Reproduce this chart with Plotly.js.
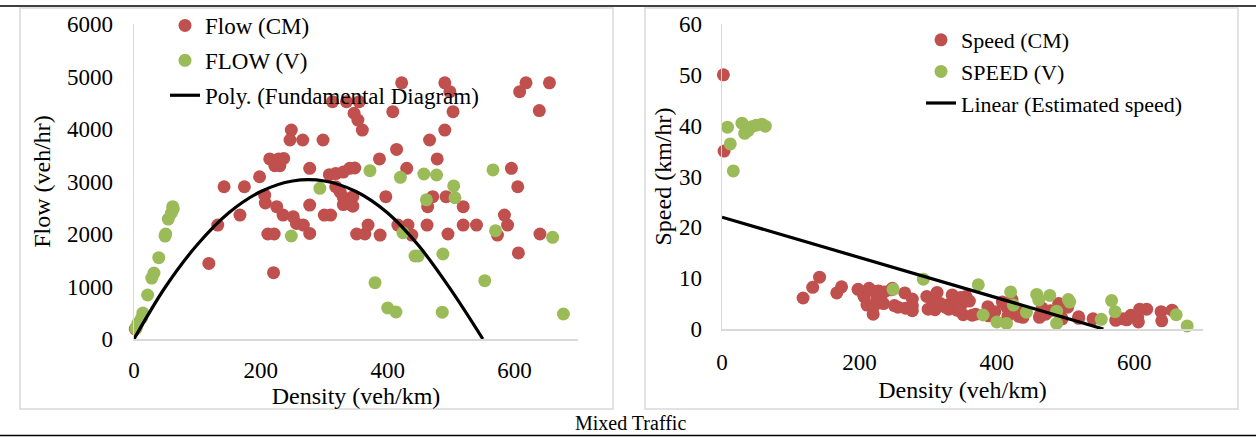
<!DOCTYPE html>
<html>
<head>
<meta charset="utf-8">
<script src="https://cdn.plot.ly/plotly-3.0.1.min.js"></script>
<style>
  html, body { margin: 0; padding: 0; background: #ffffff; }
  #chart { width: 1259px; height: 437px; }
</style>
</head>
<body>
<div id="chart"></div>
<script>
// ---------- Data ----------
// Mixed traffic, CM method: density (veh/km), flow (veh/hr), speed (km/hr)
const densityCM = [
  2, 3, 118, 132, 142, 167, 174, 198, 206, 207,
  214, 211, 221, 220, 225, 222, 228, 230, 236, 235,
  251, 256, 267, 277, 248, 246, 266, 298, 277, 277,
  300, 310, 308, 318, 330, 340, 318, 330, 330, 342,
  351, 364, 313, 335, 355, 347, 353, 360, 422, 490,
  498, 503, 408, 618, 608, 655, 639, 490, 466, 414,
  387, 478, 348, 430, 595, 605, 397, 345, 345, 471,
  463, 492, 519, 584, 589, 573, 369, 388, 416, 432,
  438, 462, 495, 519, 540, 640, 606, 325
];
const flowCM = [
  190, 200, 1440, 2170, 2900, 2360, 2900, 3090, 2740, 2590,
  3430, 2000, 2000, 1263, 2520, 3300, 3430, 3300, 3440, 2360,
  2330, 2200, 2170, 2010, 3980, 3790, 3790, 3790, 3250, 2550,
  2360, 2360, 3130, 3150, 3180, 3250, 2900, 2700, 2560, 2560,
  2000, 2000, 4520, 4520, 4520, 4300, 4170, 3980, 4880, 4880,
  4710, 4330, 4330, 4880, 4710, 4880, 4350, 3980, 3790, 3610,
  3430, 3430, 3257, 3250, 3250, 2900, 2710, 2710, 2530, 2710,
  2520, 2710, 2520, 2360, 2170, 1980, 2170, 1980, 2170, 2170,
  1980, 2170, 2000, 2170, 2170, 2000, 1640, 2800
];
const speedCM = [
  50, 35, 6.1, 8.2, 10.2, 7.1, 8.3, 7.8, 6.7, 6.3,
  8.0, 4.7, 4.5, 2.9, 5.6, 7.4, 7.5, 7.2, 7.3, 5.0,
  4.6, 4.3, 4.1, 3.6, 8.0, 7.7, 7.1, 6.4, 5.9, 4.6,
  3.9, 3.8, 5.1, 5.0, 4.8, 4.8, 4.6, 4.1, 3.9, 3.7,
  2.8, 2.7, 7.2, 6.7, 6.4, 6.2, 5.9, 5.5, 5.8, 5.0,
  4.7, 4.3, 5.3, 3.9, 3.9, 3.7, 3.4, 4.1, 4.1, 4.4,
  4.4, 3.6, 4.7, 3.8, 2.7, 2.4, 3.4, 3.9, 3.7, 2.9,
  2.7, 2.8, 2.4, 2.0, 1.8, 1.7, 2.9, 2.6, 2.6, 2.5,
  2.3, 2.3, 2.0, 2.1, 2.0, 1.6, 1.4, 4.3
];

// V method: flow panel
const densityFlowV = [
  3, 6, 12, 14, 21.5, 28, 31.5, 39, 49, 50,
  54, 59, 61, 62, 248, 293, 372, 380, 400, 413,
  420, 424, 443, 448, 457, 461, 477, 486, 487, 504,
  506, 553, 566, 570, 660, 677
];
const flowV = [
  200, 300, 400, 495, 838, 1160, 1257, 1549, 1960, 2000,
  2285, 2400, 2520, 2480, 1962, 2870, 3207, 1073, 590, 514,
  3080, 2025, 1581, 1581, 3143, 2650, 3124, 510, 1619, 2915,
  2690, 1111, 3220, 2063, 1937, 476
];

// V method: speed panel
const densitySpeedV = [
  8, 12, 16.5, 29, 33, 38, 43, 50, 58, 63,
  249, 293, 373, 380, 400, 414, 420, 424, 443, 458,
  461, 477, 487, 487, 504, 506, 552, 567, 572, 661,
  677
];
const speedV = [
  39.7, 36.4, 31.1, 40.5, 38.5, 39.0, 39.8, 40.1, 40.3, 39.9,
  7.8, 9.8, 8.7, 2.75, 1.4, 1.1, 7.3, 4.7, 3.3, 6.8,
  5.7, 6.6, 3.5, 1.1, 5.8, 5.3, 1.9, 5.6, 3.4, 2.8,
  0.6
];

// Trend lines
const polyDensity = [0, 50, 100, 150, 200, 250, 300, 350, 400, 450, 500, 550];
const polyFlow    = [0, 1000, 1800, 2410, 2810, 3010, 3010, 2810, 2400, 1760, 930, 0];
const linDensity  = [0, 555];
const linSpeed    = [22, 0];

// Labels
const xTitle = 'Density (veh/km)';
const yTitleLeft = 'Flow (veh/hr)';
const yTitleRight = 'Speed (km/hr)';
const caption = 'Mixed Traffic';

// ---------- Styling ----------
const RED = '#C0504D';
const GREEN = '#9BBB59';
const FONT = 'Liberation Serif, Times New Roman, serif';
const W = 1259, H = 437;
const px = v => v / W;
const py = v => 1 - v / H;

const mk = c => ({ color: c, size: 13, line: { width: 0 } });

const traces = [
  { x: densityCM, y: flowCM, type: 'scatter', mode: 'markers', name: 'Flow (CM)',
    marker: mk(RED), xaxis: 'x', yaxis: 'y', legend: 'legend', legendgroup: 'a', cliponaxis: false },
  { x: densityFlowV, y: flowV, type: 'scatter', mode: 'markers', name: 'FLOW (V)',
    marker: mk(GREEN), xaxis: 'x', yaxis: 'y', legend: 'legend', legendgroup: 'b', cliponaxis: false },
  { x: polyDensity, y: polyFlow, type: 'scatter', mode: 'lines', name: 'Poly. (Fundamental Diagram)',
    line: { color: '#000000', width: 3.2, shape: 'spline', smoothing: 1 }, xaxis: 'x', yaxis: 'y',
    legend: 'legend', legendgroup: 'c' },
  { x: densityCM, y: speedCM, type: 'scatter', mode: 'markers', name: 'Speed (CM)',
    marker: mk(RED), xaxis: 'x2', yaxis: 'y2', legend: 'legend2', cliponaxis: false },
  { x: densitySpeedV, y: speedV, type: 'scatter', mode: 'markers', name: 'SPEED (V)',
    marker: mk(GREEN), xaxis: 'x2', yaxis: 'y2', legend: 'legend2', cliponaxis: false },
  { x: linDensity, y: linSpeed, type: 'scatter', mode: 'lines', name: 'Linear (Estimated speed)',
    line: { color: '#000000', width: 3.2 }, xaxis: 'x2', yaxis: 'y2', legend: 'legend2' }
];

const tickFont = { family: FONT, size: 23, color: '#000000' };
const titleFont = { family: FONT, size: 24, color: '#000000' };

function xAxis(domain, standoffTitle, tls) {
  return {
    domain: domain, range: [0, 700], dtick: 200, tick0: 0,
    showgrid: false, zeroline: false, showline: true, linecolor: '#d9d9d9', linewidth: 1.5,
    ticks: '', ticklabelstandoff: tls, tickfont: tickFont, automargin: false,
    title: { text: xTitle, font: titleFont, standoff: standoffTitle }, fixedrange: true
  };
}
function yAxis(domain, range, dtick, title, standoffTitle, anchor, tls) {
  return {
    domain: domain, range: range, dtick: dtick, tick0: 0, anchor: anchor,
    showgrid: false, zeroline: false, showline: true, linecolor: '#d9d9d9', linewidth: 1.5,
    ticks: '', ticklabelstandoff: tls, tickfont: tickFont, automargin: false,
    title: { text: title, font: titleFont, standoff: standoffTitle }, fixedrange: true
  };
}

const borderColor = '#d9d9d9';
const shapes = [
  // chart boxes
  { type: 'rect', xref: 'paper', yref: 'paper', x0: px(20), x1: px(613), y0: py(409), y1: py(8),
    line: { color: borderColor, width: 1.5 }, layer: 'below' },
  { type: 'rect', xref: 'paper', yref: 'paper', x0: px(645), x1: px(1238), y0: py(409), y1: py(8),
    line: { color: borderColor, width: 1.5 }, layer: 'below' },
  // table rules
  { type: 'line', xref: 'paper', yref: 'paper', x0: 0, x1: px(1256), y0: py(6), y1: py(6),
    line: { color: '#000000', width: 1.5 } },
  { type: 'line', xref: 'paper', yref: 'paper', x0: 0, x1: px(1256), y0: py(435.5), y1: py(435.5),
    line: { color: '#000000', width: 1.5 } }
];

const layout = {
  width: W, height: H,
  margin: { l: 0, r: 0, t: 0, b: 0, pad: 0 },
  paper_bgcolor: '#ffffff', plot_bgcolor: 'rgba(0,0,0,0)',
  font: { family: FONT, color: '#000000' },
  showlegend: true,
  xaxis: Object.assign(xAxis([px(134), px(578)], 1, 10), { anchor: 'y' }),
  yaxis: yAxis([py(339), py(24)], [0, 6000], 1000, yTitleLeft, 9, 'x', 15),
  xaxis2: Object.assign(xAxis([px(722), px(1203)], 7, 12), { anchor: 'y2' }),
  yaxis2: yAxis([py(329), py(24)], [0, 60], 10, yTitleRight, 0, 'x2', 14),
  legend: {
    x: px(165), y: py(4), xanchor: 'left', yanchor: 'top',
    bgcolor: 'rgba(0,0,0,0)', borderwidth: 0, tracegroupgap: 2,
    font: { family: FONT, size: 23, color: '#000000' }, itemclick: false, itemdoubleclick: false
  },
  legend2: {
    x: px(921), y: py(19), xanchor: 'left', yanchor: 'top',
    bgcolor: 'rgba(0,0,0,0)', borderwidth: 0,
    font: { family: FONT, size: 22, color: '#000000' }, itemclick: false, itemdoubleclick: false
  },
  shapes: shapes,
  annotations: [
    { text: caption, xref: 'paper', yref: 'paper', x: px(630), y: py(423), xanchor: 'center', yanchor: 'middle',
      showarrow: false, font: { family: FONT, size: 20, color: '#000000' } }
  ]
};

Plotly.newPlot('chart', traces, layout, { staticPlot: true, displayModeBar: false });
</script>
</body>
</html>
